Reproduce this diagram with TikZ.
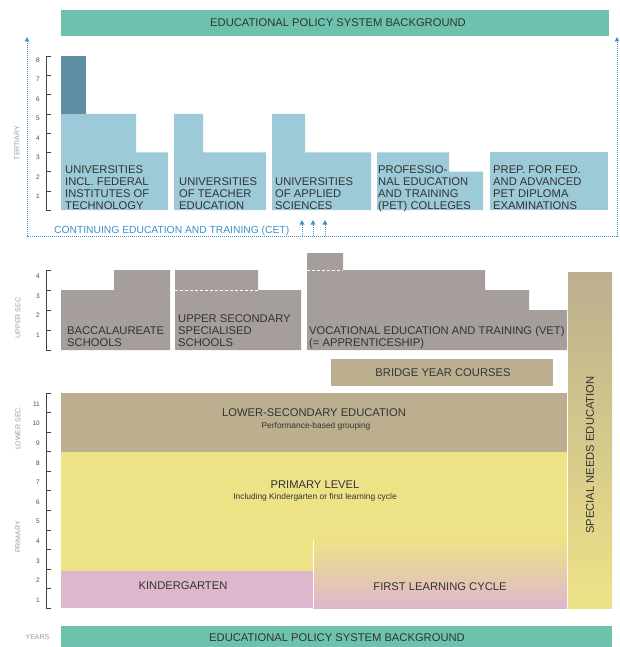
\documentclass[tikz,border=0pt]{standalone}
\usepackage{fontspec}
\setmainfont{Liberation Sans}
\usetikzlibrary{arrows.meta}
\definecolor{policy}{HTML}{6DC2AD}
\definecolor{tert}{HTML}{9CCAD9}
\definecolor{tertdark}{HTML}{5F8EA4}
\definecolor{upper}{HTML}{A59E9B}
\definecolor{lower}{HTML}{BBAF90}
\definecolor{prim}{HTML}{EEE287}
\definecolor{kinder}{HTML}{DDB7CC}
\definecolor{cet}{HTML}{3A92C6}
\definecolor{txt}{HTML}{333333}
\definecolor{axis}{HTML}{9A9A9A}
\begin{document}
\begin{tikzpicture}
  [x=1pt,y=-1pt,
   lbl/.style={font=\fontsize{11.2}{11.8}\selectfont,align=left,anchor=base west,inner sep=0pt,text=txt},
   ttl/.style={font=\fontsize{11.2}{12}\selectfont,inner sep=0pt,text=txt},
   sub/.style={font=\fontsize{8.4}{9}\selectfont,inner sep=0pt,text=txt},
   num/.style={font=\fontsize{6.5}{7}\selectfont,inner sep=0pt,anchor=east,text=black!70},
   side/.style={font=\fontsize{7}{8}\selectfont,inner sep=0pt,text=axis,rotate=90},
   axisline/.style={black!75,line width=.6pt},
   cetline/.style={cet,densely dotted,line width=1pt},
   tip/.style={-{Triangle[width=4.5pt,length=4.5pt]}}]
  \useasboundingbox (0,0) rectangle (619,647);

  % policy background bars
  \fill[policy] (61,10) rectangle (609,36);
  \fill[policy] (61,626) rectangle (612,647);
  \node[ttl] (pol1) at (338,23) {EDUCATIONAL POLICY SYSTEM BACKGROUND};
  \node[ttl] (pol2) at (337,638) {EDUCATIONAL POLICY SYSTEM BACKGROUND};

  % tertiary
  \fill[tert] (61,210) -- (61,114) -- (136,114) -- (136,152.4) -- (168,152.4) -- (168,210) -- cycle;
  \fill[tertdark] (61,56.4) rectangle (86,114);
  \fill[tert] (174,210) -- (174,114) -- (203,114) -- (203,152.4) -- (266,152.4) -- (266,210) -- cycle;
  \fill[tert] (272,210) -- (272,114) -- (305,114) -- (305,152.4) -- (371,152.4) -- (371,210) -- cycle;
  \fill[tert] (377,210) -- (377,152.4) -- (449,152.4) -- (449,171.6) -- (483,171.6) -- (483,210) -- cycle;
  \fill[tert] (490,152.4) rectangle (608,210);
  \node[lbl] (eth) at (65,209) {UNIVERSITIES\\INCL. FEDERAL\\INSTITUTES OF\\TECHNOLOGY};
  \node[lbl] (ute) at (179,209) {UNIVERSITIES\\OF TEACHER\\EDUCATION};
  \node[lbl] (uas) at (275,209) {UNIVERSITIES\\OF APPLIED\\SCIENCES};
  \node[lbl] (pet) at (378,209) {PROFESSIO-\\NAL EDUCATION\\AND TRAINING\\(PET) COLLEGES};
  \node[lbl] (prep) at (493,209) {PREP. FOR FED.\\AND ADVANCED\\PET DIPLOMA\\EXAMINATIONS};

  % continuing education frame
  \coordinate (fbl) at (27,236);
  \coordinate (ftl) at (27,37);
  \coordinate (fbr) at (617,236);
  \coordinate (ftr) at (617,37);
  \draw[cetline,{Triangle[width=4.5pt,length=4.5pt]}-{Triangle[width=4.5pt,length=4.5pt]}] (ftl) -- (fbl) -- (fbr) -- (ftr);
  \node[font=\fontsize{10.3}{11}\selectfont,inner sep=0pt,anchor=west,text=cet] (cet) at (54,230.5) {CONTINUING EDUCATION AND TRAINING (CET)};
  \foreach \x [count=\i] in {302,313,325} {
    \coordinate (a\i) at (\x,236);
    \coordinate (b\i) at (\x,220);
    \draw[cetline,tip] (a\i) -- (b\i);
  }

  % upper secondary
  \fill[upper] (61,350) -- (61,290) -- (114,290) -- (114,270) -- (170,270) -- (170,350) -- cycle;
  \fill[upper] (175,350) -- (175,270) -- (258,270) -- (258,290) -- (301,290) -- (301,350) -- cycle;
  \fill[upper] (307,350) -- (307,253) -- (343,253) -- (343,270) -- (485,270) -- (485,290) -- (529,290) -- (529,310) -- (567,310) -- (567,350) -- cycle;
  \draw[white,densely dashed,line width=.6pt] (175,290) -- (258,290);
  \draw[white,densely dashed,line width=.6pt] (307,270) -- (343,270);
  \node[lbl] (bacc) at (67,346) {BACCALAUREATE\\SCHOOLS};
  \node[lbl] (uss) at (178,346) {UPPER SECONDARY\\SPECIALISED\\SCHOOLS};
  \node[lbl] (vet) at (309,346) {VOCATIONAL EDUCATION AND TRAINING (VET)\\(= APPRENTICESHIP)};

  % bridge year and special needs
  \fill[lower] (331,359) rectangle (553,386);
  \node[ttl] (bridge) at (443,373) {BRIDGE YEAR COURSES};
  \shade[top color=lower,bottom color=prim] (568,272) rectangle (612,608);
  \node[ttl,rotate=90] (sne) at (590,455) {SPECIAL NEEDS EDUCATION};

  % compulsory school
  \fill[lower] (61,393) rectangle (567,452);
  \fill[prim] (61,452) rectangle (567,608);
  \fill[kinder] (61,571) rectangle (313,608);
  \shade[top color=prim,bottom color=kinder] (313,540) rectangle (567,608);
  \draw[white,line width=.8pt] (313,540) -- (313,608);
  \node[ttl] (lsec) at (314,413) {LOWER-SECONDARY EDUCATION};
  \node[sub] (lsub) at (316,426) {Performance-based grouping};
  \node[ttl] (prim) at (315,485) {PRIMARY LEVEL};
  \node[sub] (psub) at (315,497) {Including Kindergarten or first learning cycle};
  \node[ttl] (kg) at (183,586) {KINDERGARTEN};
  \node[ttl] (flc) at (440,587) {FIRST LEARNING CYCLE};

  % year scales
  \draw[axisline] (50.5,56.4) -- (46.5,56.4) -- (46.5,210) -- (50.5,210);
  \foreach \k in {1,...,7}
    \draw[axisline] (46.5,{210-19.2*\k}) -- (50.5,{210-19.2*\k});
  \foreach \k in {1,...,8}
    \node[num] (tn\k) at (40,{216.2-19.5*\k}) {\k};
  \draw[axisline] (50.5,270) -- (46.5,270) -- (46.5,350) -- (50.5,350);
  \foreach \k in {1,...,3}
    \draw[axisline] (46.5,{350-20*\k}) -- (50.5,{350-20*\k});
  \foreach \k in {1,...,4}
    \node[num] (un\k) at (40,{354.5-19.5*\k}) {\k};
  \draw[axisline] (50.5,393) -- (46.5,393) -- (46.5,608) -- (50.5,608);
  \foreach \k in {1,...,10}
    \draw[axisline] (46.5,{608-19.55*\k}) -- (50.5,{608-19.55*\k});
  \foreach \k in {1,...,11}
    \node[num] (ln\k) at (40,{619.6-19.6*\k}) {\k};

  \node[side] (tert) at (17,143) {TERTIARY};
  \node[side] (usec) at (18,318) {UPPER SEC};
  \node[side] (lsecl) at (18,428) {LOWER SEC.};
  \node[side] (priml) at (18,537) {PRIMARY};
  \node[font=\fontsize{7}{8}\selectfont,inner sep=0pt,text=axis] (years) at (37.5,637) {YEARS};
\end{tikzpicture}
\end{document}
